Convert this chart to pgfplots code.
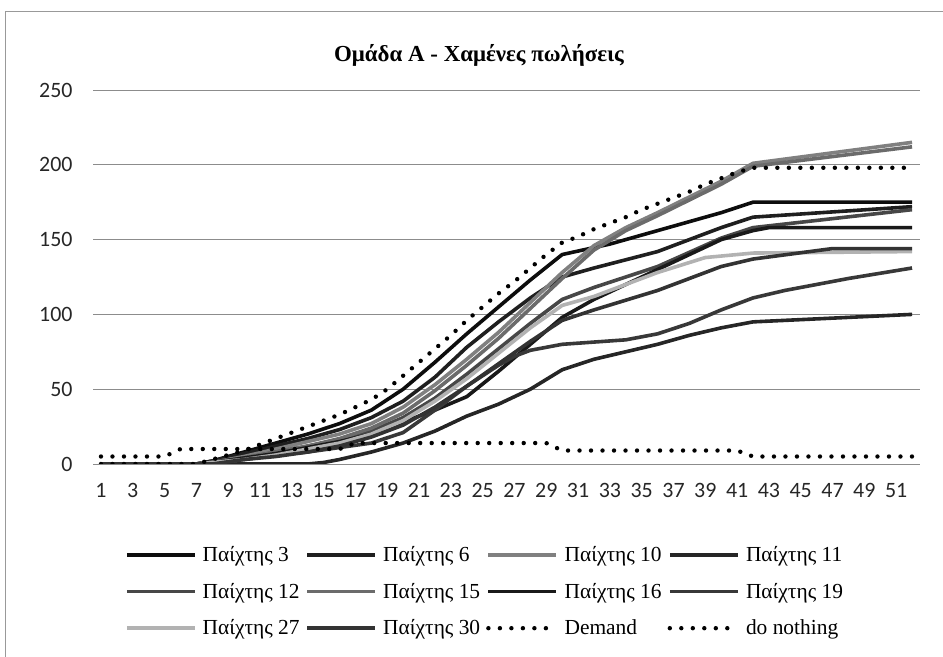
\documentclass[border=0pt]{standalone}
\usepackage{pgfplots}
\pgfplotsset{compat=1.18}
\usepackage{fontspec}
\setmainfont{Liberation Serif}
\newfontfamily\carlito{Carlito}
\begin{document}
\begin{tikzpicture}[x=1bp,y=1bp]
\useasboundingbox (0,0) rectangle (943,657);
\draw[black!40, line width=1bp] (5,0) -- (5,645) -- (943,645);
\node[font=\fontsize{23}{27}\selectfont\bfseries] at (479,602) {Ομάδα Α - Χαμένες πωλήσεις};
\begin{axis}[
  at={(93bp,193bp)}, anchor=south west,
  width=827bp, height=374bp, scale only axis,
  xmin=0.5, xmax=52.5, ymin=0, ymax=250,
  xtick={1,3,...,51}, ytick={0,50,...,250},
  ymajorgrids, grid style={black!45, line width=0.8bp},
  axis line style={draw=none}, major tick length=0pt,
  tick label style={font=\carlito\fontsize{22}{26}\selectfont, text=black!85},
  /pgf/number format/assume math mode=true,
  yticklabel style={xshift=-17bp},
  xticklabel style={yshift=-16bp},
  legend columns=4,
  legend cell align=left,
  legend style={at={(0.474,-0.21)}, anchor=north, draw=none, fill=none,
    font=\fontsize{21.5}{25}\selectfont, column sep=4bp, row sep=16bp},
  legend image code/.code={\draw[#1] (0bp,0bp) -- (68bp,0bp);},
  every axis plot/.append style={line width=3.6bp, line join=round},
]
% Paixtis 3
\addplot[black!95] coordinates {(1,0)(7,0)(8,2)(10,8)(12,14)(14,20)(16,27)(18,36)(20,50)(22,68)(24,87)(26,105)(28,123)(30,140)(33,147)(36,156)(40,168)(42,175)(52,175)};
\addlegendentry{Παίχτης 3}
% Paixtis 6
\addplot[black!88] coordinates {(1,0)(7,0)(8,2)(10,7)(12,12)(14,17)(16,23)(18,31)(20,42)(22,58)(24,78)(26,95)(28,111)(30,125)(32,131)(36,142)(40,158)(42,165)(52,172)};
\addlegendentry{Παίχτης 6}
% Paixtis 10
\addplot[black!50] coordinates {(1,0)(7,0)(8,1)(10,5)(12,10)(14,15)(16,20)(18,27)(20,38)(22,53)(24,70)(26,88)(28,108)(30,128)(32,146)(34,158)(36,168)(40,189)(42,201)(52,215)};
\addlegendentry{Παίχτης 10}
% Paixtis 11
\addplot[black!85] coordinates {(1,0)(14,0)(15,1)(16,3)(18,8)(20,14)(22,22)(24,32)(26,40)(28,50)(30,63)(32,70)(34,75)(36,80)(38,86)(40,91)(42,95)(52,100)};
\addlegendentry{Παίχτης 11}
% Paixtis 12
\addplot[black!72] coordinates {(1,0)(7,0)(8,1)(10,4)(12,8)(14,12)(16,16)(18,22)(20,31)(22,44)(24,60)(26,77)(28,94)(30,110)(32,118)(36,132)(40,151)(42,158)(52,170)};
\addlegendentry{Παίχτης 12}
% Paixtis 15
\addplot[black!58] coordinates {(1,0)(7,0)(8,1)(10,4)(12,8)(14,12)(16,17)(18,24)(20,34)(22,49)(24,66)(26,84)(28,104)(30,124)(32,143)(34,156)(36,166)(40,187)(42,199)(52,212)};
\addlegendentry{Παίχτης 15}
% Paixtis 16
\addplot[black!90] coordinates {(1,0)(7,0)(8,1)(10,4)(12,7)(14,11)(16,15)(18,20)(20,28)(22,36)(24,45)(26,62)(28,80)(30,98)(32,110)(36,130)(40,150)(42,156)(43,158)(52,158)};
\addlegendentry{Παίχτης 16}
% Paixtis 19
\addplot[black!78] coordinates {(1,0)(7,0)(8,1)(10,3)(12,6)(14,8)(16,11)(18,14)(20,21)(22,36)(24,52)(26,66)(27,72)(28,76)(30,80)(34,83)(36,87)(38,94)(40,103)(42,111)(44,116)(48,124)(52,131)};
\addlegendentry{Παίχτης 19}
% Paixtis 27
\addplot[black!30] coordinates {(1,0)(7,0)(8,1)(10,3)(12,6)(14,10)(16,14)(18,20)(20,29)(22,42)(24,57)(26,74)(28,91)(30,106)(32,112)(34,120)(36,128)(39,138)(42,141)(52,142)};
\addlegendentry{Παίχτης 27}
% Paixtis 30
\addplot[black!80] coordinates {(1,0)(7,0)(8,0)(10,3)(12,5)(14,8)(16,12)(18,18)(20,26)(22,38)(24,52)(26,67)(28,82)(30,96)(32,103)(36,116)(40,132)(42,137)(47,144)(52,144)};
\addlegendentry{Παίχτης 30}
% Demand
\addplot[black, line width=4.4bp, line cap=round, dash pattern=on 0bp off 11.5bp] coordinates {(1,5)(5,5)(6,10)(16,10)(17,14)(29,14)(30,9)(41,9)(42,5)(52,5)};
\addlegendentry{Demand}
% do nothing
\addplot[black, line width=4.4bp, line cap=round, dash pattern=on 0bp off 11.5bp] coordinates {(1,0)(7,0)(8,3)(9,6)(10,9)(11,13)(12,17)(13,21)(14,25)(15,29)(16,33)(17,38)(18,43)(19,50)(20,59)(21,68)(22,77)(23,86)(24,96)(25,105)(26,114)(27,122)(28,131)(29,140)(30,148)(31,152)(32,157)(33,161)(34,165)(35,170)(36,174)(37,178)(38,182)(39,187)(40,191)(41,195)(42,198)(52,198)};
\addlegendentry{do nothing}
\end{axis}
\end{tikzpicture}
\end{document}
